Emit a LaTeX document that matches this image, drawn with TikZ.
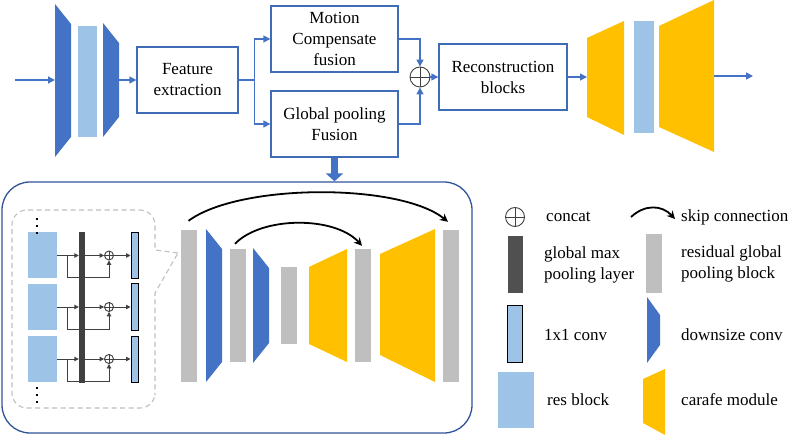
\documentclass[tikz,border=0pt]{standalone}
\usepackage{fontspec}
\setmainfont{Liberation Serif}
\usetikzlibrary{arrows.meta,calc}
\definecolor{bblue}{HTML}{4472C4}
\definecolor{boxblue}{HTML}{3F6DB5}
\definecolor{lblue}{HTML}{9DC3E6}
\definecolor{orng}{HTML}{FFC000}
\definecolor{gry}{HTML}{BFBFBF}
\definecolor{dgry}{HTML}{404040}
\definecolor{lgry}{HTML}{505050}
\definecolor{frm}{HTML}{2F5597}
\tikzset{
  txt/.style={font=\fontsize{17}{21}\selectfont},
  procbox/.style={draw=boxblue, line width=1.3pt, fill=white, inner sep=0pt, align=center, txt},
  barr/.style={draw=bblue, line width=1.3pt, -{Triangle[length=7pt,width=7pt]}},
  garr/.style={draw=dgry, line width=0.9pt, -{Triangle[length=4.5pt,width=4.5pt]}},
  gline/.style={draw=dgry, line width=0.9pt},
  skiparr/.style={draw=black, line width=1.8pt, -{Stealth[length=8pt,width=8pt]}},
  gbar/.style={fill=gry, inner sep=0pt, minimum width=16pt},
  rblock/.style={fill=lblue, inner sep=0pt, minimum width=29pt, minimum height=46pt},
  conv/.style={draw=black, line width=1pt, fill=lblue, inner sep=0pt, minimum width=7pt, minimum height=46pt},
  pcirc/.style={circle, draw=dgry, line width=0.9pt, inner sep=0pt, minimum size=#1},
  lbl/.style={anchor=west, align=left, txt, inner sep=0pt}
}
\begin{document}
\begin{tikzpicture}[x=1pt,y=-1pt]
\useasboundingbox (0,0) rectangle (789,435);

% ---------- top row ----------
\coordinate (inp) at (15,80);
\coordinate (t1w) at (55,80);
\fill[bblue] (55,4) -- (71,24) -- (71,137) -- (55,157) -- cycle;
\fill[lblue] (78,26) rectangle (97,137);
\fill[bblue] (103,23) -- (119,43) -- (119,117) -- (103,137) -- cycle;
\coordinate (t2e) at (119,80);
\draw[barr] (inp) -- (t1w);

\node[procbox, minimum width=101pt, minimum height=66pt] (fe) at (187.5,80) {Feature\\extraction};
\node[procbox, minimum width=127pt, minimum height=66pt] (mc) at (334.5,39) {Motion\\Compensate\\fusion};
\node[procbox, minimum width=127pt, minimum height=66pt] (gp) at (334.5,124) {Global pooling\\Fusion};
\node[pcirc=20pt] (cat) at (420,77) {};
\draw[dgry, line width=0.9pt] (cat.north) -- (cat.south) (cat.west) -- (cat.east);
\node[procbox, minimum width=128pt, minimum height=66pt] (rb) at (503,77) {Reconstruction\\blocks};

\draw[barr] (t2e) -- (fe.west);
\draw[barr] (fe.east) -- ++(16,0) |- (mc.west);
\draw[barr] (fe.east) -- ++(16,0) |- (gp.west);
\draw[barr] (mc.east) -| (cat.north);
\draw[barr] (gp.east) -| (cat.south);
\draw[barr] (cat.east) -- (rb.west);

\coordinate (o1w) at (587,77);
\fill[orng] (587,38) -- (624,21) -- (624,135) -- (587,117) -- cycle;
\fill[lblue] (634,21) rectangle (654,133);
\fill[orng] (659,26) -- (714,0) -- (714,152) -- (659,127) -- cycle;
\coordinate (o2e) at (714,76);
\coordinate (outp) at (753,76);
\draw[barr] (rb.east) -- (o1w);
\draw[barr] (o2e) -- (outp);

% ---------- frame ----------
\node[draw=frm, line width=1.3pt, rounded corners=28pt, minimum width=470pt, minimum height=251pt, inner sep=0pt] (frame) at (237,307.5) {};
\draw[bblue, line width=7pt, -{Triangle[length=8pt,width=17pt]}] (gp.south) -- (gp.south |- frame.north);

% ---------- callout ----------
\draw[gry, line width=1.1pt, dash pattern=on 5pt off 3.5pt]
  (178,253) -- (155,250) [rounded corners=15pt] -- (155,210) -- (12,210) -- (12,408) -- (155,408) -- (155,380) [sharp corners] -- (155,293) -- cycle;

\foreach \i/\y in {1/255.5,2/307,3/359}{
  \node[rblock] (r\i) at (42.5,\y) {};
  \node[conv] (c\i) at (134.5,\y) {};
  \node[pcirc=9pt] (p\i) at (109,\y) {};
  \draw[dgry, line width=0.8pt] (p\i.north) -- (p\i.south) (p\i.west) -- (p\i.east);
  \draw[garr] ([xshift=10pt]r\i.east) -- ++(0,22) -| (p\i.south);
}
\node[fill=dgry, inner sep=0pt, minimum width=6pt, minimum height=151pt] (bar) at (82,307.5) {};
\foreach \i in {1,2,3}{
  \draw[gline] (r\i.east) -- ++(10,0);
  \draw[garr] (r\i.east) -- (bar.west |- r\i.east);
  \draw[garr] (bar.east |- p\i.west) -- (p\i.west);
  \draw[garr] (p\i.east) -- (c\i.west);
}
\foreach \y in {219,226,233,388,395,402}{
  \fill[black] (35.8,\y-1.3) rectangle (38.4,\y+1.3);
}

% ---------- U-net ----------
\node[gbar, minimum height=152pt] (g1) at (188.5,306) {};
\fill[bblue] (206,229) -- (222,249) -- (222,362) -- (206,382) -- cycle;
\node[gbar, minimum height=113pt] (g2) at (238,305.5) {};
\fill[bblue] (253,248) -- (269,268) -- (269,343) -- (253,363) -- cycle;
\node[gbar, minimum height=77pt] (g3) at (289,305.5) {};
\fill[orng] (309,267) -- (347,249) -- (347,362) -- (309,344) -- cycle;
\node[gbar, minimum height=113pt] (g4) at (363,305.5) {};
\fill[orng] (380,254) -- (435,229) -- (435,382) -- (380,355) -- cycle;
\node[gbar, minimum height=152pt] (g5) at (451,306) {};

\draw[skiparr] ([yshift=9pt]g1.north) .. controls (240,183) and (400,183) .. ([xshift=-3pt,yshift=8pt]g5.north);
\draw[skiparr] ([xshift=-3pt,yshift=5pt]g2.north) .. controls (262,216) and (335,216) .. ([xshift=-1pt,yshift=3pt]g4.north);

% ---------- legend ----------
\node[pcirc=19pt] (lc) at (515,217) {};
\draw[dgry, line width=0.9pt] (lc.north) -- (lc.south) (lc.west) -- (lc.east);
\node[lbl] (lcat) at (546,217) {concat};
\coordinate (ls1) at (631,217);
\coordinate (ls2) at (675,219);
\draw[skiparr] (ls1) .. controls (645,204) and (662,205) .. (ls2);
\node[lbl] (lskip) at (681,217) {skip connection};

\node[fill=lgry, inner sep=0pt, minimum width=15pt, minimum height=57pt] (lgm) at (515.5,264.5) {};
\node[lbl] (lgmt) at (544,265) {global max\\pooling layer};
\node[gbar, minimum height=59pt] (lrg) at (654,263.5) {};
\node[lbl] (lrgt) at (681,264) {residual global\\pooling block};

\node[draw=black, line width=1.1pt, fill=lblue, inner sep=0pt, minimum width=15pt, minimum height=57pt] (lcv) at (515,334) {};
\node[lbl] (lcvt) at (544,335) {1x1 conv};
\fill[bblue] (647,297) -- (660,315) -- (660,345) -- (647,363) -- cycle;
\node[lbl] (ldct) at (681,335) {downsize conv};

\node[fill=lblue, inner sep=0pt, minimum width=36pt, minimum height=56pt] (lrb) at (516,400) {};
\node[lbl] (lrbt) at (547,400) {res block};
\fill[orng] (643,379) -- (665,369) -- (665,435) -- (643,423) -- cycle;
\node[lbl] (lcft) at (681,400) {carafe module};
\end{tikzpicture}
\end{document}
